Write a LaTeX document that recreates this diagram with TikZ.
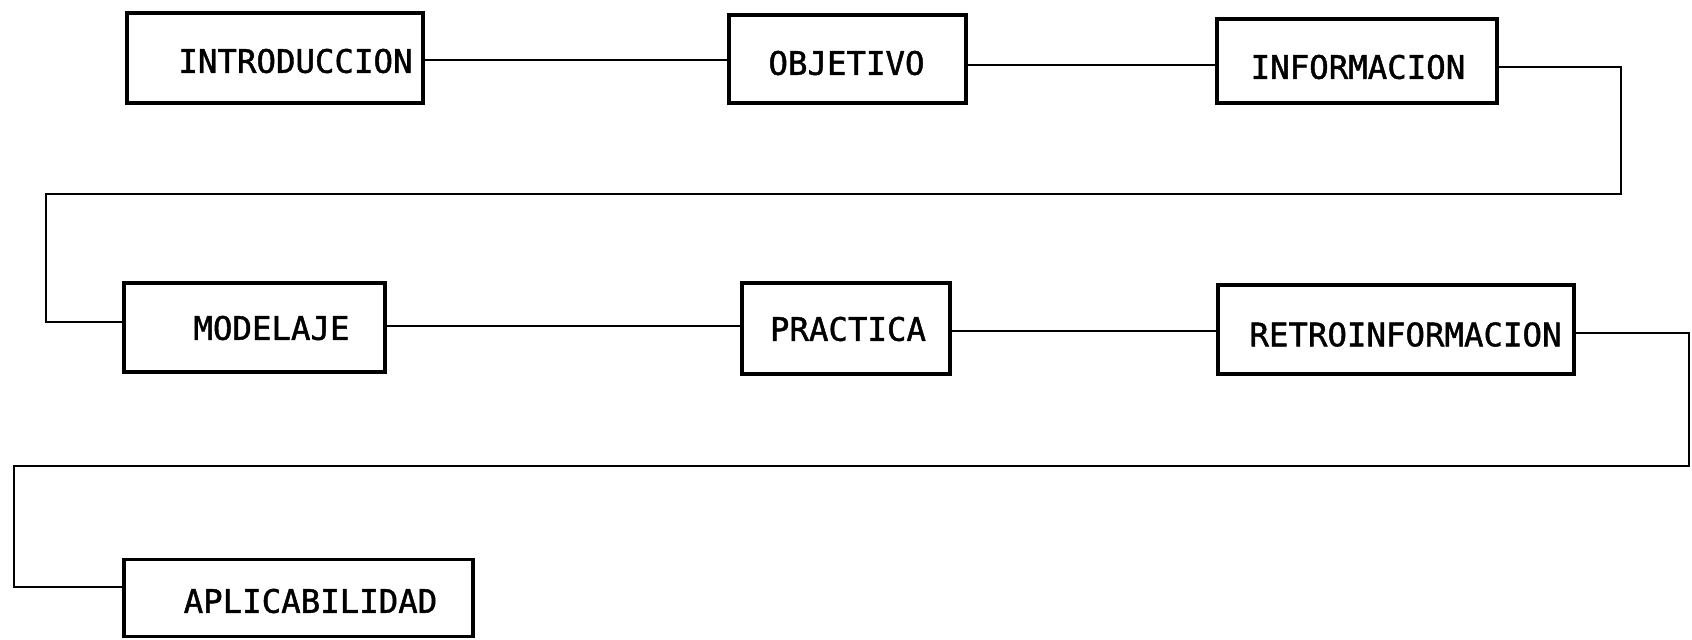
\documentclass[tikz,border=0pt]{standalone}
\usepackage{fontspec}
\newfontfamily\boxfont[FakeBold=1.3]{DejaVu Sans Mono}
\begin{document}
\begin{tikzpicture}[
  x=0.5pt, y=-0.5pt,
  stagebox/.style={draw, line width=1.6pt, inner sep=0pt, rectangle},
  stagetext/.style={inner sep=0pt, font=\boxfont\fontsize{16.2pt}{20pt}\selectfont},
  link/.style={line width=1.4pt, line join=miter}
]
\useasboundingbox (0,0) rectangle (1692,639);

% first row
\node[stagebox, minimum width=148pt, minimum height=45pt] (intro) at (275,58) {};
\node[stagetext] (intro-t) at (295.5,61) {INTRODUCCION};
\node[stagebox, minimum width=118.5pt, minimum height=44pt] (obj) at (847.5,59) {};
\node[stagetext] (obj-t) at (846.5,63) {OBJETIVO};
\node[stagebox, minimum width=140pt, minimum height=42pt] (info) at (1357,61) {};
\node[stagetext] (info-t) at (1358,67) {INFORMACION};

% second row
\node[stagebox, minimum width=130.5pt, minimum height=44.5pt] (model) at (254.5,327.5) {};
\node[stagetext] (model-t) at (271.5,328) {MODELAJE};
\node[stagebox, minimum width=104pt, minimum height=45.5pt] (prac) at (846,328.5) {};
\node[stagetext] (prac-t) at (848,329) {PRACTICA};
\node[stagebox, minimum width=178pt, minimum height=44.5pt] (retro) at (1396,329.5) {};
\node[stagetext] (retro-t) at (1405.5,334.5) {RETROINFORMACION};

% third row
\node[stagebox, minimum width=174.5pt, minimum height=38.5pt] (aplic) at (298.5,598) {};
\node[stagetext] (aplic-t) at (310.5,601) {APLICABILIDAD};

% turning points of the long return lines
\coordinate (r1a) at (1621,67);
\coordinate (r1b) at (1621,194);
\coordinate (r1c) at (46,194);
\coordinate (r1d) at (46,322);
\coordinate (r2a) at (1689,333);
\coordinate (r2b) at (1689,466);
\coordinate (r2c) at (14,466);
\coordinate (r2d) at (14,587);

% connectors
\draw[link] (intro.east |- 0,60) -- (obj.west |- 0,60);
\draw[link] (obj.east |- 0,65) -- (info.west |- 0,65);
\draw[link] (info.east |- r1a) -- (r1a) -- (r1b) -- (r1c) -- (r1d) -- (model.west |- r1d);
\draw[link] (model.east |- 0,326) -- (prac.west |- 0,326);
\draw[link] (prac.east |- 0,331) -- (retro.west |- 0,331);
\draw[link] (retro.east |- r2a) -- (r2a) -- (r2b) -- (r2c) -- (r2d) -- (aplic.west |- r2d);
\end{tikzpicture}
\end{document}
